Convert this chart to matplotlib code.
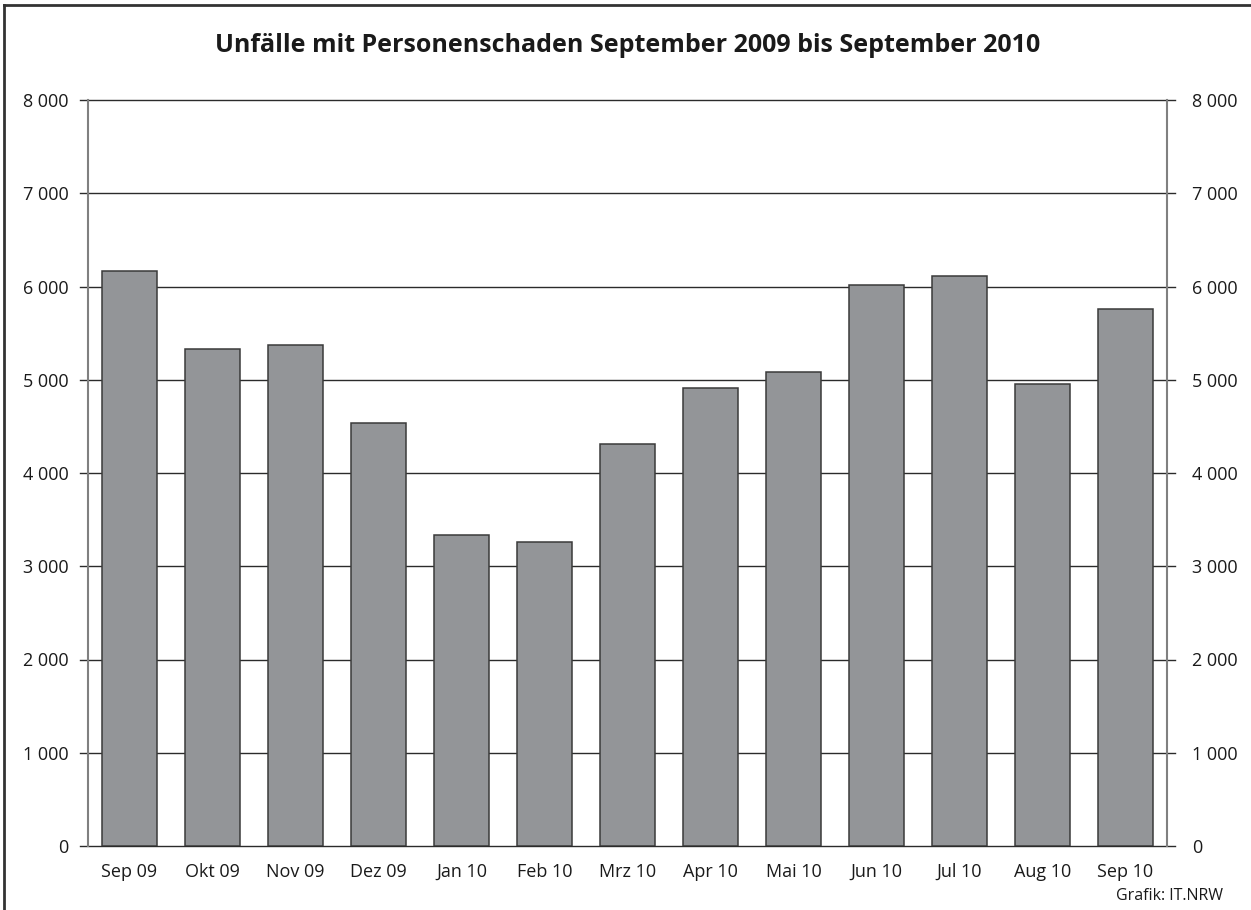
import matplotlib
matplotlib.use("Agg")
import matplotlib.pyplot as plt
from matplotlib.lines import Line2D

months = ["Sep 09", "Okt 09", "Nov 09", "Dez 09", "Jan 10", "Feb 10", "Mrz 10",
          "Apr 10", "Mai 10", "Jun 10", "Jul 10", "Aug 10", "Sep 10"]
values = [6166, 5330, 5373, 4536, 3335, 3260, 4311, 4912, 5083, 6016, 6113, 4954, 5759]
yticks = [0, 1000, 2000, 3000, 4000, 5000, 6000, 7000, 8000]
ytick_labels = ["0", "1 000", "2 000", "3 000", "4 000", "5 000", "6 000", "7 000", "8 000"]
title = "Unfälle mit Personenschaden September 2009 bis September 2010"
source = "Grafik: IT.NRW"

plt.rcParams['font.family'] = ['Open Sans', 'DejaVu Sans']

W, H = 1251, 910
fig = plt.figure(figsize=(W / 100, H / 100), dpi=100)
ax = fig.add_axes([88 / W, 1 - 846 / H, (1167 - 88) / W, (846 - 100) / H])

x = list(range(len(months)))
ax.bar(x, values, width=0.67, color="#939598", edgecolor="#3a3a3a", linewidth=1.1, zorder=3)
ax.set_xlim(-0.5, len(months) - 0.5)
ax.set_ylim(0, 8000)

ext = 8 / (1167 - 88)
for v in yticks:
    ax.axhline(v, xmin=-ext, xmax=1 + ext, color="#2b2b2b", linewidth=1.0, clip_on=False, zorder=1)

for side in ["top", "bottom"]:
    ax.spines[side].set_visible(False)
for side in ["left", "right"]:
    ax.spines[side].set_color("#808080")
    ax.spines[side].set_linewidth(1.5)
    ax.spines[side].set_zorder(2)

ax.set_yticks(yticks)
ax.set_yticklabels(ytick_labels)
ax.tick_params(axis="y", length=0, pad=14, labelsize=13, colors="#1a1a1a")
ax.set_xticks(x)
ax.set_xticklabels(months)
ax.tick_params(axis="x", length=0, pad=12, labelsize=13, colors="#1a1a1a")

ax2 = ax.twinx()
ax2.set_ylim(0, 8000)
ax2.set_yticks(yticks)
ax2.set_yticklabels(ytick_labels)
ax2.tick_params(axis="y", length=0, pad=18, labelsize=13, colors="#1a1a1a")
for side in ["top", "bottom", "left", "right"]:
    ax2.spines[side].set_visible(False)

fig.text(628 / W, 1 - 45 / H, title, ha="center", va="center", fontsize=18,
         fontweight="bold", color="#1a1a1a")
fig.text(1223 / W, 1 - 896 / H, source, ha="right", va="center", fontsize=11.5, color="#1a1a1a")

# outer frame (top and left)
fig.add_artist(Line2D([4 / W, 4 / W], [0, 1 - 5 / H], transform=fig.transFigure,
                      color="#333333", linewidth=2))
fig.add_artist(Line2D([4 / W, 1], [1 - 5 / H, 1 - 5 / H], transform=fig.transFigure,
                      color="#333333", linewidth=2))

fig.savefig("out.png", dpi=100)
